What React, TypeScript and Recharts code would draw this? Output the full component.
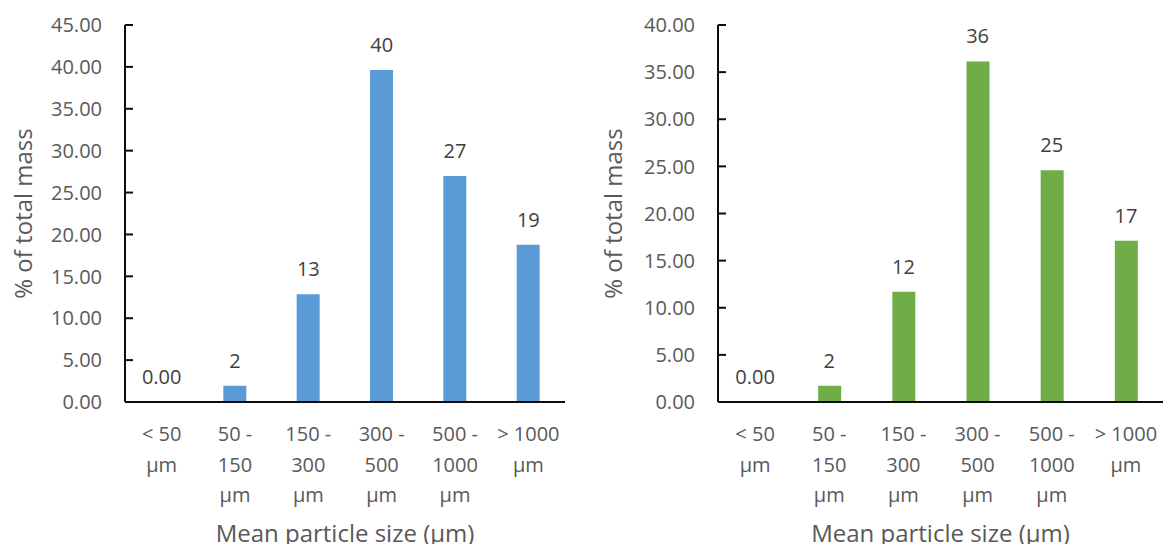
import { ComposedChart, Bar, Line, XAxis, YAxis, LabelList, Label } from "recharts";

// categories (\n = line break in the axis label)
const categories = [
  "< 50\nµm",
  "50 -\n150\nµm",
  "150 -\n300\nµm",
  "300 -\n500\nµm",
  "500 -\n1000\nµm",
  "> 1000\nµm",
];

const leftValues = [0, 1.94, 12.86, 39.62, 26.97, 18.78];
const leftLabels = ["0.00", "2", "13", "40", "27", "19"];
const leftTicks = [0, 5, 10, 15, 20, 25, 30, 35, 40, 45];

const rightValues = [0, 1.73, 11.69, 36.14, 24.6, 17.1];
const rightLabels = ["0.00", "2", "12", "36", "25", "17"];
const rightTicks = [0, 5, 10, 15, 20, 25, 30, 35, 40];

const AXIS = "#0d0d0d";
const TICK_TEXT = "#595959";
const LABEL_TEXT = "#404040";

function XTick({ x, y, payload }: any) {
  const lines = String(payload.value).split("\n");
  return (
    <text x={x} y={y} textAnchor="middle" fill={TICK_TEXT} fontSize={20}>
      {lines.map((ln, i) => (
        <tspan key={i} x={x} dy={i === 0 ? 39 : 30.5}>
          {ln}
        </tspan>
      ))}
    </text>
  );
}

function YTick({ x, y, payload }: any) {
  return (
    <g>
      <line x1={x} x2={x + 8} y1={y} y2={y} stroke={AXIS} strokeWidth={2} />
      <text x={x - 23} y={y} dy="0.36em" textAnchor="end" fill={TICK_TEXT} fontSize={20}>
        {Number(payload.value).toFixed(2)}
      </text>
    </g>
  );
}

function Panel({
  values,
  labels,
  ticks,
  color,
  width,
  yAxisWidth,
  right,
  titleDx,
}: {
  values: number[];
  labels: string[];
  ticks: number[];
  color: string;
  width: number;
  yAxisWidth: number;
  right: number;
  titleDx: number;
}) {
  const data = categories.map((c, i) => ({ name: c, value: values[i], label: labels[i] }));
  return (
    <ComposedChart
      width={width}
      height={544}
      data={data}
      margin={{ top: 25, right, left: 0, bottom: 0 }}
      barSize={23}
    >
      <XAxis
        dataKey="name"
        height={142}
        interval={0}
        tickLine={false}
        tickSize={0}
        tickMargin={0}
        tick={<XTick />}
        axisLine={{ stroke: AXIS, strokeWidth: 2 }}
      >
        <Label
          value="Mean particle size (µm)"
          position="insideBottom"
          offset={2}
          fill={TICK_TEXT}
          fontSize={24}
        />
      </XAxis>
      <YAxis
        width={yAxisWidth}
        domain={[0, ticks[ticks.length - 1]]}
        ticks={ticks}
        interval={0}
        tickLine={false}
        tickSize={0}
        tickMargin={0}
        tick={<YTick />}
        axisLine={{ stroke: AXIS, strokeWidth: 2 }}
      >
        <Label
          value="% of total mass"
          position="center"
          angle={-90}
          dx={titleDx}
          fill={TICK_TEXT}
          fontSize={24}
        />
      </YAxis>
      <Bar dataKey="value" fill={color} isAnimationActive={false} />
      {/* invisible line only carries the data labels, so the zero bar gets one too */}
      <Line
        dataKey="value"
        stroke="none"
        dot={false}
        activeDot={false}
        isAnimationActive={false}
      >
        <LabelList dataKey="label" position="top" offset={18} fill={LABEL_TEXT} fontSize={20} />
      </Line>
    </ComposedChart>
  );
}

export default function App() {
  return (
    <div
      style={{
        position: "absolute",
        left: 0,
        top: 0,
        width: 1163,
        height: 544,
        background: "#fff",
        fontFamily: "'Open Sans', sans-serif",
        overflow: "hidden",
      }}
    >
      <div style={{ position: "absolute", left: 0, top: 0 }}>
        <Panel
          values={leftValues}
          labels={leftLabels}
          ticks={leftTicks}
          color="#5b9bd5"
          width={580}
          yAxisWidth={125}
          right={15}
          titleDx={-39}
        />
      </div>
      <div style={{ position: "absolute", left: 580, top: 0 }}>
        <Panel
          values={rightValues}
          labels={rightLabels}
          ticks={rightTicks}
          color="#70ad47"
          width={583}
          yAxisWidth={138}
          right={0}
          titleDx={-35.5}
        />
      </div>
    </div>
  );
}
